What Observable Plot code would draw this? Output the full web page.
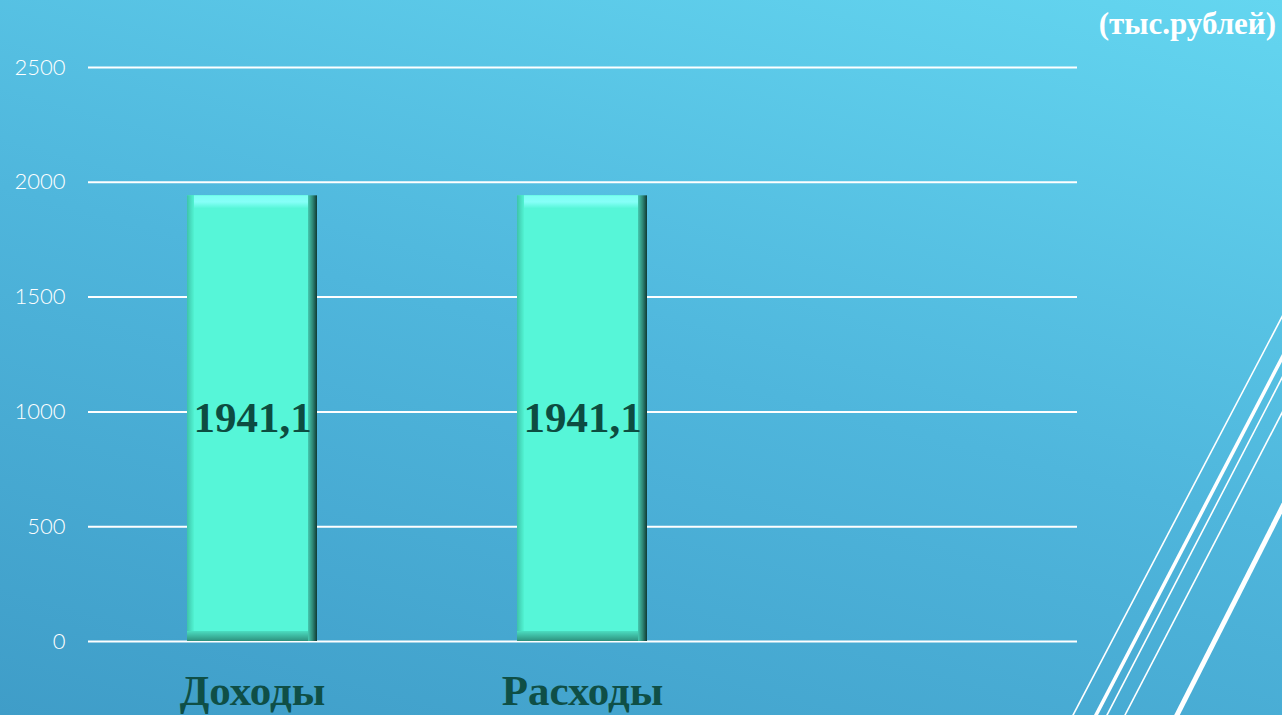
<!DOCTYPE html>
<html>
<head>
<meta charset="utf-8">
<script src="https://cdn.jsdelivr.net/npm/d3@7"></script>
<script src="https://cdn.jsdelivr.net/npm/@observablehq/plot@0.6"></script>
<style>
  html, body { margin: 0; padding: 0; }
  #wrap {
    position: relative; width: 1282px; height: 715px; overflow: hidden;
    background: linear-gradient(15deg, #3f9dc8 0%, #4fb6dc 50%, #64d6f0 100%);
  }
  #unit {
    position: absolute; right: 6px; top: 6px;
    font: bold 31px "Liberation Serif", "Times New Roman", serif; color: #ffffff;
  }
  #deco { position: absolute; left: 0; top: 0; pointer-events: none; }
  #chart { position: absolute; left: 0; top: 0; }
</style>
</head>
<body>
<div id="wrap">
  <div id="chart"></div>
  <div id="unit">(тыс.рублей)</div>
  <svg id="deco" width="1282" height="715">
    <g stroke="#ffffff" fill="none">
      <line x1="1284" y1="313" x2="1072" y2="717" stroke-width="1.6"/>
      <line x1="1284" y1="354" x2="1095" y2="717" stroke-width="3.6"/>
      <line x1="1284" y1="374" x2="1106" y2="717" stroke-width="1.6"/>
      <line x1="1284" y1="409" x2="1124" y2="717" stroke-width="1.6"/>
      <line x1="1284" y1="504" x2="1176" y2="717" stroke-width="5"/>
    </g>
  </svg>
  <svg width="0" height="0" style="position:absolute">
    <defs>
      <linearGradient id="rightEdge" x1="0" x2="1" y1="0" y2="0">
        <stop offset="0.92" stop-color="#4cdcc0"/>
        <stop offset="0.965" stop-color="#2f8a78"/>
        <stop offset="1" stop-color="#0f3a34"/>
      </linearGradient>
      <linearGradient id="bottomEdge" x1="0" x2="0" y1="0" y2="1">
        <stop offset="0.975" stop-color="#4fe6c8"/>
        <stop offset="1" stop-color="#2e917e"/>
      </linearGradient>
      <linearGradient id="leftEdge" x1="0" x2="1" y1="0" y2="0">
        <stop offset="0" stop-color="#3ec4aa"/>
        <stop offset="0.06" stop-color="#52f5d4"/>
      </linearGradient>
      <linearGradient id="topEdge" x1="0" x2="0" y1="0" y2="1">
        <stop offset="0" stop-color="#7cfff2"/>
        <stop offset="0.015" stop-color="#86fff8"/>
        <stop offset="0.03" stop-color="#56f6d8"/>
      </linearGradient>
    </defs>
  </svg>
</div>
<script>
const categories = ["Доходы", "Расходы"];
const values = [1941.1, 1941.1];
const valueLabels = ["1941,1", "1941,1"];
const yTicks = [0, 500, 1000, 1500, 2000, 2500];
const emptySlot = " ";

const data = categories.map((c, i) => ({ cat: c, value: values[i], label: valueLabels[i] }));

const chart = Plot.plot({
  width: 1282,
  height: 715,
  marginLeft: 88,
  marginRight: 205,
  marginTop: 67,
  marginBottom: 74,
  style: { background: "transparent", overflow: "visible" },
  x: { domain: [...categories, emptySlot], paddingInner: 0.606, paddingOuter: 0.3, label: null },
  y: { domain: [0, 2500], label: null },
  marks: [
    Plot.ruleY(yTicks, { stroke: "#ffffff", strokeWidth: 2 }),
    Plot.axisY({ ticks: yTicks, tickFormat: d => String(d), tickSize: 0, tickPadding: 23, fontSize: 22, fontFamily: "Lato, 'DejaVu Sans', sans-serif", fontWeight: 300, fill: "#ffffff", label: null }),
    Plot.axisX({ tickSize: 0, tickPadding: 33, fontSize: 43, fontWeight: "bold", fontFamily: "'Liberation Serif', 'Times New Roman', serif", fill: "#0f4f46", label: null, tickFormat: d => d.trim() }),
    // bevelled bar layers
    Plot.barY(data, { x: "cat", y: "value", fill: "url(#rightEdge)" }),
    Plot.barY(data, { x: "cat", y: "value", fill: "url(#bottomEdge)", insetRight: 9 }),
    Plot.barY(data, { x: "cat", y: "value", fill: "url(#leftEdge)", insetRight: 9, insetBottom: 10 }),
    Plot.barY(data, { x: "cat", y: "value", fill: "url(#topEdge)", insetRight: 9, insetLeft: 7, insetBottom: 10 }),
    Plot.text(data, { x: "cat", y: d => d.value / 2, text: "label", fontSize: 43, fontWeight: "bold", fontFamily: "'Liberation Serif', 'Times New Roman', serif", fill: "#0d4c41", lineAnchor: "middle" })
  ]
});
document.getElementById("chart").appendChild(chart);
</script>
</body>
</html>
